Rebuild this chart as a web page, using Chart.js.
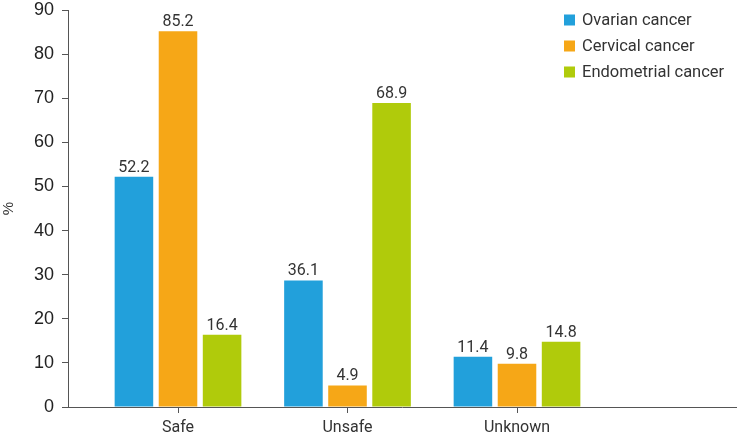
<!DOCTYPE html>
<html>
<head>
<meta charset="utf-8">
<script src="https://cdn.jsdelivr.net/npm/chart.js@4"></script>
<style>
  html, body { margin: 0; padding: 0; background: #fff; }
</style>
</head>
<body>
<canvas id="chart" width="738" height="440"></canvas>
<script>
// categorias e séries
const categories = ['Safe', 'Unsafe', 'Unknown'];
const seriesNames = ['Ovarian cancer', 'Cervical cancer', 'Endometrial cancer'];
const seriesColors = ['#22a0db', '#f6a717', '#b0cb0b'];

// alturas das barras
const ovarian = [52.2, 28.7, 11.4];
const cervical = [85.2, 4.9, 9.8];
const endometrial = [16.4, 68.9, 14.8];

// rótulos impressos acima das barras
const ovarianLabels = ['52.2', '36.1', '11.4'];
const cervicalLabels = ['85.2', '4.9', '9.8'];
const endometrialLabels = ['16.4', '68.9', '14.8'];

const yTicks = [0, 10, 20, 30, 40, 50, 60, 70, 80, 90];

const series = [ovarian, cervical, endometrial];
const seriesLabels = [ovarianLabels, cervicalLabels, endometrialLabels];

const axisColor = '#555';

new Chart(document.getElementById('chart'), {
    type: 'bar',
    data: {
        datasets: series.map((vals, s) => ({
            label: seriesNames[s],
            data: vals.map((v, i) => ({ x: i, y: v })),
            backgroundColor: seriesColors[s],
            borderWidth: 0,
            categoryPercentage: 0.78,
            barPercentage: 0.875
        }))
    },
    options: {
        responsive: false,
        animation: false,
        layout: { padding: { top: 10, right: 2, left: 0, bottom: 0 } },
        plugins: {
            legend: { display: false },
            tooltip: { enabled: false }
        },
        scales: {
            x: {
                type: 'linear',
                offset: false,
                min: -0.649,
                max: 3.292,
                afterBuildTicks: axis => { axis.ticks = categories.map((c, i) => ({ value: i })); },
                afterFit: axis => { axis.height = 33; },
                border: { color: axisColor, width: 1 },
                grid: { display: true, offset: false, drawOnChartArea: false, drawTicks: true, tickLength: 6, color: axisColor },
                ticks: {
                    padding: 5,
                    color: '#333',
                    font: { family: 'Roboto', size: 16 },
                    callback: v => categories[v] ?? ''
                }
            },
            y: {
                min: 0,
                max: 90,
                afterBuildTicks: axis => { axis.ticks = yTicks.map(v => ({ value: v })); },
                afterFit: axis => { axis.width = 68; axis.paddingTop = 0; axis.paddingBottom = 0; },
                border: { color: axisColor, width: 1 },
                grid: { display: true, drawOnChartArea: false, drawTicks: true, tickLength: 6, color: axisColor },
                ticks: {
                    padding: 8,
                    color: '#222',
                    font: { family: 'Liberation Sans', size: 18 }
                },
                title: {
                    display: true,
                    text: '%',
                    color: '#333',
                    font: { family: 'Liberation Sans', size: 15 },
                    padding: { top: 0, bottom: 0 }
                }
            }
        }
    },
    plugins: [{
        id: 'valueLabels',
        afterDatasetsDraw(chart) {
            const { ctx } = chart;
            ctx.save();
            ctx.fillStyle = '#333';
            ctx.font = '16px Roboto';
            ctx.textAlign = 'center';
            ctx.textBaseline = 'alphabetic';
            chart.data.datasets.forEach((ds, s) => {
                chart.getDatasetMeta(s).data.forEach((bar, i) => {
                    ctx.fillText(seriesLabels[s][i], bar.x, bar.y - 5);
                });
            });
            ctx.restore();
        }
    }, {
        id: 'sideLegend',
        afterDraw(chart) {
            const { ctx } = chart;
            ctx.save();
            ctx.font = '16.5px Roboto';
            ctx.textBaseline = 'middle';
            ctx.textAlign = 'left';
            chart.data.datasets.forEach((ds, s) => {
                const y = 20 + s * 26;
                ctx.fillStyle = ds.backgroundColor;
                ctx.fillRect(564, y - 5.5, 11, 11);
                ctx.fillStyle = '#333';
                ctx.fillText(ds.label, 582, y + 1);
            });
            ctx.restore();
        }
    }]
});
</script>
</body>
</html>
